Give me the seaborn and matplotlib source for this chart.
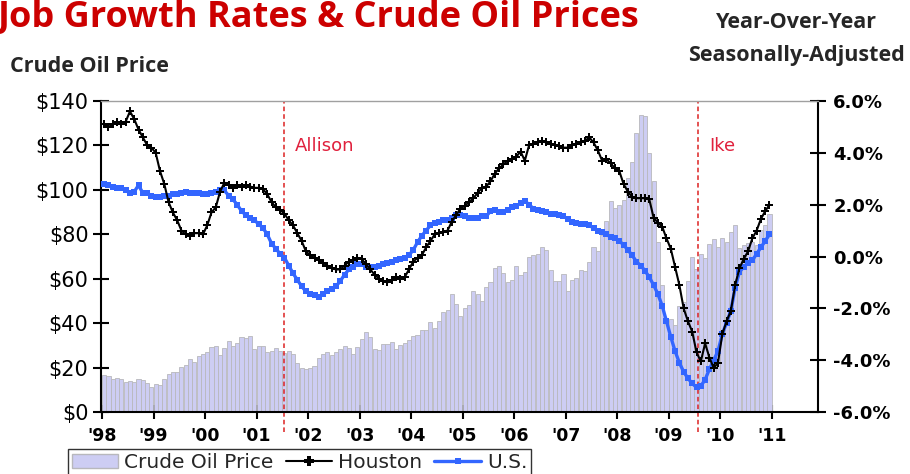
import pandas as pd
import matplotlib
matplotlib.use("Agg")
import matplotlib.pyplot as plt
import seaborn as sns
from matplotlib.lines import Line2D
from matplotlib.patches import Patch

# Monthly data, Jan 1998 - Dec 2010 (one row per year)
years = list(range(1998, 2011))

oil_price = [
    16.7, 16.1, 15.0, 15.4, 14.9, 13.7, 14.1, 13.4, 15.0, 14.4, 12.9, 11.3,
    12.5, 12.0, 14.7, 17.3, 17.8, 17.9, 20.1, 21.3, 23.9, 22.6, 25.0, 26.1,
    27.2, 29.4, 29.9, 25.7, 28.8, 31.8, 29.7, 31.2, 33.9, 33.1, 34.4, 28.4,
    29.6, 29.6, 27.2, 27.4, 28.6, 27.6, 26.4, 27.4, 26.2, 22.2, 19.6, 19.3,
    19.7, 20.7, 24.4, 26.3, 27.0, 25.5, 26.9, 28.4, 29.7, 28.9, 26.3, 29.4,
    32.9, 35.9, 33.6, 28.3, 28.1, 30.7, 30.8, 31.6, 28.3, 30.3, 31.1, 32.2,
    34.3, 34.7, 36.7, 36.7, 40.3, 38.0, 40.8, 44.9, 45.9, 53.1, 48.5, 43.3,
    46.8, 48.0, 54.3, 53.0, 49.8, 56.3, 58.7, 65.0, 65.6, 62.4, 58.3, 59.4,
    65.5, 61.6, 62.9, 69.7, 70.9, 71.0, 74.4, 73.0, 63.8, 58.9, 59.1, 62.0,
    54.5, 59.3, 60.4, 64.0, 63.5, 67.5, 74.1, 72.4, 79.9, 85.8, 94.8, 91.7,
    93.0, 95.4, 105.5, 112.6, 125.4, 133.9, 133.4, 116.7, 104.1, 76.6, 57.3, 41.1,
    41.7, 39.1, 47.9, 49.6, 59.0, 69.6, 64.2, 71.1, 69.4, 75.7, 78.0, 74.5,
    78.3, 76.4, 81.2, 84.3, 73.7, 75.3, 76.3, 76.6, 75.2, 81.9, 84.3, 89.2,
]

houston = [
    5.1, 5.0, 5.1, 5.2, 5.1, 5.2, 5.6, 5.3, 4.9, 4.6, 4.3, 4.2,
    4.0, 3.3, 2.8, 2.1, 1.7, 1.4, 1.0, 0.85, 0.8, 0.9, 0.9, 0.85,
    1.2, 1.7, 1.9, 2.5, 2.85, 2.75, 2.65, 2.75, 2.7, 2.75, 2.7, 2.65,
    2.65, 2.6, 2.4, 2.1, 1.9, 1.8, 1.65, 1.4, 1.2, 0.9, 0.6, 0.2,
    0.05, -0.05, -0.15, -0.25, -0.35, -0.45, -0.5, -0.5, -0.35, -0.2, -0.15, -0.05,
    -0.1, -0.3, -0.5, -0.7, -0.85, -0.95, -1.0, -0.9, -0.8, -0.85, -0.8, -0.5,
    -0.2, -0.05, 0.05, 0.35, 0.6, 0.85, 0.9, 0.95, 1.0, 1.35, 1.6, 1.85,
    1.95, 2.1, 2.25, 2.45, 2.65, 2.7, 2.9, 3.2, 3.4, 3.55, 3.7, 3.75,
    3.85, 4.05, 3.7, 4.3, 4.35, 4.4, 4.45, 4.4, 4.35, 4.3, 4.25, 4.2,
    4.2, 4.3, 4.35, 4.4, 4.45, 4.6, 4.4, 4.1, 3.7, 3.75, 3.6, 3.4,
    3.3, 2.8, 2.5, 2.3, 2.25, 2.25, 2.25, 2.2, 1.5, 1.3, 1.15, 0.7,
    0.3, -0.4, -1.1, -2.0, -2.5, -2.9, -3.7, -4.05, -3.35, -3.9, -4.3, -4.1,
    -3.0, -2.5, -2.1, -1.1, -0.45, -0.1, 0.2, 0.7, 1.0, 1.45, 1.75, 2.0,
]

us = [
    2.8, 2.75, 2.7, 2.65, 2.65, 2.55, 2.45, 2.5, 2.75, 2.45, 2.45, 2.35,
    2.3, 2.3, 2.35, 2.35, 2.4, 2.4, 2.45, 2.5, 2.45, 2.45, 2.45, 2.4,
    2.4, 2.45, 2.5, 2.55, 2.55, 2.35, 2.2, 2.0, 1.75, 1.6, 1.5, 1.4,
    1.25, 1.1, 0.85, 0.5, 0.3, 0.1, -0.05, -0.35, -0.65, -0.9, -1.15, -1.35,
    -1.45, -1.5, -1.55, -1.45, -1.35, -1.25, -1.15, -0.95, -0.7, -0.5, -0.4, -0.3,
    -0.3, -0.4, -0.4, -0.4, -0.35, -0.3, -0.25, -0.2, -0.15, -0.1, -0.05, 0.05,
    0.25, 0.55, 0.8, 1.0, 1.2, 1.3, 1.35, 1.4, 1.4, 1.5, 1.6, 1.6,
    1.55, 1.5, 1.5, 1.5, 1.55, 1.55, 1.75, 1.8, 1.7, 1.7, 1.8, 1.9,
    1.95, 2.05, 2.15, 2.0, 1.85, 1.8, 1.75, 1.7, 1.65, 1.65, 1.6, 1.55,
    1.45, 1.35, 1.3, 1.25, 1.25, 1.2, 1.1, 1.0, 0.95, 0.85, 0.75, 0.7,
    0.6, 0.45, 0.25, 0.05, -0.2, -0.35, -0.55, -0.8, -1.1, -1.45, -1.9, -2.5,
    -3.1, -3.65, -4.1, -4.45, -4.7, -4.9, -5.05, -5.0, -4.75, -4.35, -4.0, -3.65,
    -3.0, -2.55, -2.1, -1.2, -0.6, -0.4, -0.25, -0.15, 0.1, 0.35, 0.6, 0.85,
]

year_ticks = list(range(1998, 2012))
year_labels = ["'" + str(y)[2:] for y in year_ticks]
price_ticks = list(range(0, 141, 20))
pct_ticks = list(range(-6, 7, 2))

# Storm markers (position as drawn on the chart)
storms = {"Allison": 2001.53, "Ike": 2009.57}

# Month centres on a decimal-year axis
month_pos = [y + (m + 0.5) / 12 for y in years for m in range(12)]
df = pd.DataFrame({"date": month_pos, "oil": oil_price, "houston": houston, "us": us})

sns.set_theme(style="white")
plt.rcParams["font.family"] = ["DejaVu Sans"]

bar_color = "#CDCDF3"
bar_edge = "#B8B8BC"
us_color = "#3366FF"

fig = plt.figure(figsize=(9.1, 4.74), dpi=100)
ax = fig.add_axes([101 / 910, 1 - 412 / 474, 717 / 910, 311 / 474])

# Crude oil price bars on the left axis
sns.barplot(data=df, x="date", y="oil", native_scale=True, ax=ax, color=bar_color,
            edgecolor=bar_edge, linewidth=0.6, saturation=1, errorbar=None, width=0.95)
ax.set_ylim(0, 140)
ax.set_yticks(price_ticks)
ax.set_yticklabels([f"${v}" for v in price_ticks])
ax.set_xticks(year_ticks)
ax.set_xticklabels(year_labels, fontweight="bold")
ax.set_xlabel("")
ax.set_ylabel("")

# Job growth lines on the right axis
ax2 = ax.twinx()
sns.lineplot(data=df, x="date", y="houston", ax=ax2, color="black", marker="P",
             markersize=6, markeredgewidth=0, linewidth=1.5, zorder=4)
sns.lineplot(data=df, x="date", y="us", ax=ax2, color=us_color, marker="s",
             markersize=4, markeredgewidth=0, linewidth=2.4, zorder=3)
ax2.set_ylim(-6, 6)
ax2.set_yticks(pct_ticks)
ax2.set_yticklabels([f"{v:.1f}%" for v in pct_ticks], fontweight="bold")
ax2.set_ylabel("")
ax.set_xlim(1997.98, 2011.9)

# Hurricane lines and labels
for name, xpos in storms.items():
    ax2.axvline(xpos, ymin=-0.065, ymax=1, clip_on=False, color="#DD2222",
                linestyle=(0, (3, 2)), linewidth=1.1, zorder=1)
    ax2.text(xpos + 0.22, 4.26, name, color="#E0203C", fontsize=13, va="center")

# Spines and ticks
for s in ax.spines.values():
    s.set_visible(False)
for side in ["left", "right", "bottom"]:
    ax2.spines[side].set_color("black")
    ax2.spines[side].set_linewidth(1.5)
ax2.spines["top"].set_color("#A0A0A0")
ax2.spines["top"].set_linewidth(1.0)

ax.tick_params(axis="y", left=True, direction="inout", length=12, width=1.5,
               labelsize=15, pad=3, colors="black")
ax.tick_params(axis="x", bottom=True, direction="inout", length=10, width=1.5,
               labelsize=12.5, pad=6, colors="black")
ax2.tick_params(axis="y", right=True, direction="inout", length=12, width=1.5,
                labelsize=13, pad=5, colors="black")

# Titles
head = ["Open Sans", "DejaVu Sans"]
fig.text(-0.003, 1 - 27 / 474, "Job Growth Rates & Crude Oil Prices", fontsize=26,
         fontweight="bold", color="#CC0000", family=head, va="baseline")
fig.text(10 / 910, 1 - 67 / 474, "Crude Oil Price", fontsize=15.5, fontweight="bold",
         family=head, va="center")
fig.text(796 / 910, 1 - 22 / 474, "Year-Over-Year", fontsize=15.5, fontweight="bold",
         family=head, va="center", ha="center")
fig.text(796 / 910, 1 - 55 / 474, "Seasonally-Adjusted", fontsize=15.5, fontweight="bold",
         family=head, va="center", ha="center")

# Legend along the bottom edge
handles = [
    Patch(facecolor=bar_color, edgecolor=bar_edge),
    Line2D([], [], color="black", marker="P", markersize=7, markeredgewidth=0, linewidth=1.5),
    Line2D([], [], color=us_color, marker="s", markersize=4, markeredgewidth=0, linewidth=2.4),
]
leg = fig.legend(handles, ["Crude Oil Price", "Houston", "U.S."], loc="upper left",
                 bbox_to_anchor=(68 / 910, 1 - 449 / 474), ncol=3, frameon=True,
                 fancybox=False, edgecolor="black", fontsize=14.5, handlelength=2.3,
                 handletextpad=0.3, columnspacing=0.6, borderpad=0.2, borderaxespad=0)
leg.get_frame().set_linewidth(1.0)

fig.savefig("out.png", dpi=100)
